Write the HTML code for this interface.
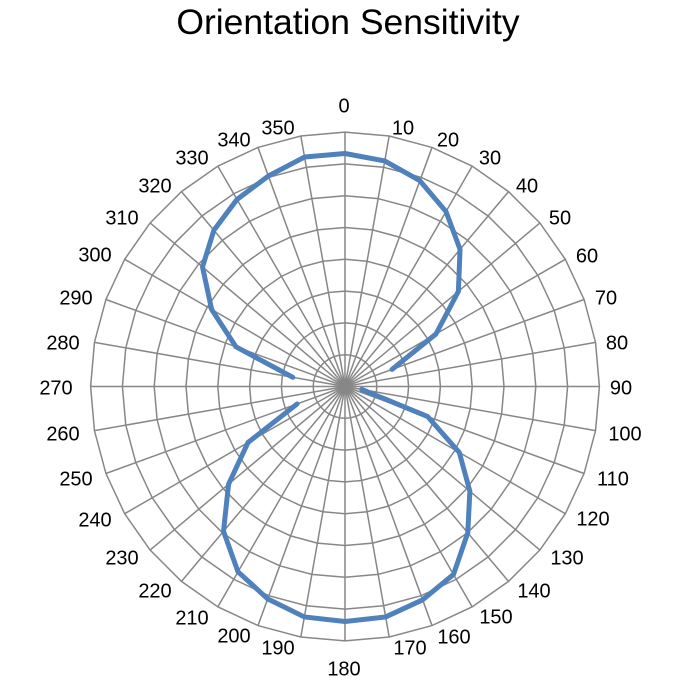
<!DOCTYPE html>
<html><head><meta charset="utf-8"><style>
html,body{margin:0;padding:0;background:#fff;width:682px;height:696px;overflow:hidden}
svg{display:block}
</style></head><body>
<svg id="s" width="682" height="696" xmlns="http://www.w3.org/2000/svg">
<text x="348" y="34" text-anchor="middle" font-family="Liberation Sans, sans-serif" font-size="35.5" fill="#000">Orientation Sensitivity</text>
</svg>
<script>
var s=document.getElementById('s'),NS='http://www.w3.org/2000/svg';
var cx=345,cy=386.5,R=254.4;
function P(a,r){var t=a*Math.PI/180;return [cx+r*Math.sin(t),cy-r*Math.cos(t)];}
function el(n,at,txt){var e=document.createElementNS(NS,n);for(var k in at)e.setAttribute(k,at[k]);if(txt!=null)e.textContent=txt;s.appendChild(e);return e;}
for(var i=1;i<=8;i++){var pts=[];for(var a=0;a<360;a+=10){pts.push(P(a,R*i/8).join(','));}
el('polygon',{points:pts.join(' '),fill:'none',stroke:'#878787','stroke-width':1.5});}
for(var a=0;a<360;a+=10){var p=P(a,R);el('line',{x1:cx,y1:cy,x2:p[0],y2:p[1],stroke:'#878787','stroke-width':1.5});}
var L={0:[344,105],10:[403,127],20:[448,139],30:[490,157],40:[527,185],50:[560,217],60:[587,255],70:[606,297],80:[617,342],90:[621,387],
100:[625,433],110:[613,478],120:[593,518],130:[567,557],140:[534,590],150:[496,616],160:[454,636],170:[410,647],180:[344,668],
190:[278,647],200:[234,635],210:[192,617],220:[155,590],230:[122,557],240:[95,519],250:[76,478],260:[63,433],270:[56,387],
280:[63,342],290:[76,297],300:[95,254],310:[122,217],320:[155,185],330:[192,157],340:[234,139],350:[278,127]};
for(var k in L){el('text',{x:L[k][0],y:L[k][1]+7.5,'text-anchor':'middle','font-family':'Liberation Sans, sans-serif','font-size':20,fill:'#000'},k);}
var segA={100:17,110:88,120:132,130:163,140:191,150:217,160:227,170:234,180:235,190:234,200:226,210:214,220:189,230:152,240:112,250:51};
var segB={280:53,290:116,300:154,310:186,320:204,330:216,340:224,350:233,360:233,370:229,380:219,390:202,400:179,410:148,420:105,430:50};
[segA,segB].forEach(function(sg){var pts=[];Object.keys(sg).map(Number).sort(function(a,b){return a-b}).forEach(function(a){pts.push(P(a,sg[a]).join(','));});
el('polyline',{points:pts.join(' '),fill:'none',stroke:'#4F81BD','stroke-width':5,'stroke-linejoin':'round','stroke-linecap':'round'});});
</script>
</body></html>
